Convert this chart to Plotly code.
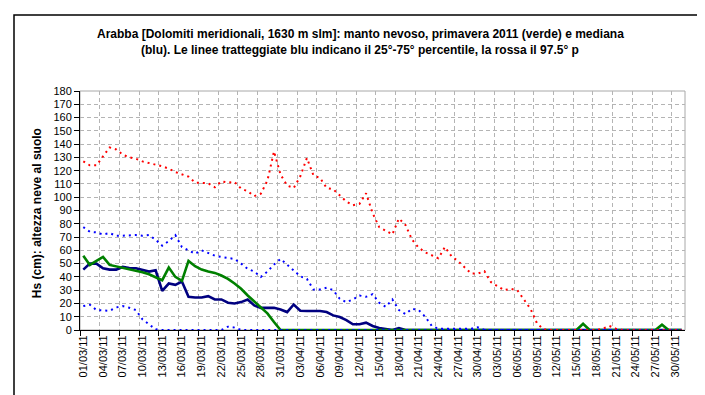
import datetime as dt
import plotly.graph_objects as go

# ---- data (one value per day, 01/03/2011 .. 31/05/2011) ----
start = dt.date(2011, 3, 1)
dates = [(start + dt.timedelta(days=k)).strftime("%d/%m/%y") for k in range(92)]
day = list(range(92))

green_2011 = [56, 49, 52, 55, 49, 48, 47, 46, 44.5, 43.5,
              42, 40, 37.5, 47, 40, 37, 52, 48, 45.5, 44,
              43, 41, 38.5, 35, 31, 26, 21.5, 16.5, 12.5, 6,
              0] + [0] * 45 + [4.7] + [0] * 11 + [4] + [0] * 3

median = [45.5, 50, 50, 46.5, 45.5, 45.5, 47.5, 46.7, 46.5, 45.5,
          44, 45, 29.5, 35, 34, 36.5, 25, 24.5, 24.5, 25.5,
          23, 23, 20.5, 20, 21, 23, 18.5, 16.7, 16.7, 16.7,
          15.5, 13.5, 19.2, 14.5, 14.3, 14.3, 14.3, 13.5, 11, 9.8,
          7.5, 4.3, 4.3, 5.5, 3, 1.5, 0.5, 0, 1.5, 0] + [0] * 42

p75 = [77.5, 74, 73.5, 72, 73, 71, 71, 71.5, 71.5, 71,
       71.5, 68, 63.5, 67, 71.5, 62.5, 59.8, 57.5, 60, 58,
       56, 55, 54.5, 53.5, 50, 46, 44, 40, 44, 49.3,
       53.5, 49, 44.5, 40.5, 38.5, 30.5, 30.5, 31.8, 30, 23.5,
       21, 23, 26, 25, 27, 20.5, 17.5, 23, 15, 12,
       16, 15, 10, 3, 1, 1, 1, 1, 1, 1,
       2] + [0] * 31

p25 = [18, 19, 15, 14.5, 14.5, 17, 18, 16.8, 15, 8,
       4, 0.5, 0, 0, 0, 0, 0, 0, 0, 0,
       0, 0, 2.5, 1.8] + [0] * 68

p975 = [127, 124, 124, 131, 137.5, 136, 132, 130, 129, 127,
        126, 124.5, 123.3, 121.5, 119, 117, 115.5, 111, 110.5, 110.5,
        107.5, 112, 111, 111.5, 106.5, 104.5, 100.8, 102.7, 112.5, 134.5,
        117, 108.8, 107, 115.8, 129.5, 116.5, 114.5, 107, 106, 101,
        96.8, 94, 95, 103, 88, 77.5, 75, 72, 84, 79,
        68, 62, 58.5, 56, 54, 62.5, 55.5, 51.8, 47, 42.5,
        42.5, 44.3, 36, 33, 30, 31, 30, 23, 16, 5,
        0.5, 0, 0, 0, 0, 0, 0, 0, 0, 1,
        3, 1] + [0] * 10

tick_idx = list(range(0, 92, 3))
tick_txt = [dates[k] for k in tick_idx]

title_line1 = "Arabba [Dolomiti meridionali, 1630 m slm]: manto nevoso, primavera 2011 (verde) e mediana"
title_line2 = "(blu). Le linee tratteggiate blu indicano il 25°-75° percentile, la rossa il 97.5° p"
ytitle_text = "Hs (cm): altezza neve al suolo"

# ---- layout geometry (pixels) ----
W, H = 705, 395
L, R, T, B = 72, 677, 83, 321.7
pw, ph = R - L, B - T


def px(x):
    return (x - L) / pw


def py(y):
    return (B - y) / ph


FONT = "Liberation Sans, Arial, sans-serif"
GRID = "#B4B4B4"

fig = go.Figure()
fig.add_trace(go.Scatter(x=day, y=median, mode="lines",
                         line=dict(color="#000080", width=2.6), hoverinfo="skip"))
fig.add_trace(go.Scatter(x=day, y=green_2011, mode="lines",
                         line=dict(color="#008000", width=2.6), hoverinfo="skip"))
fig.add_trace(go.Scatter(x=day, y=p75, mode="lines",
                         line=dict(color="#0000FF", width=2, dash="2px,4px"), hoverinfo="skip"))
fig.add_trace(go.Scatter(x=day, y=p25, mode="lines",
                         line=dict(color="#0000FF", width=2, dash="2px,4px"), hoverinfo="skip"))
fig.add_trace(go.Scatter(x=day, y=p975, mode="lines",
                         line=dict(color="#FF0000", width=2, dash="2px,4px"), hoverinfo="skip"))

fig.update_layout(
    width=W, height=H,
    margin=dict(l=L, r=W - R, t=T, b=H - B, pad=0),
    paper_bgcolor="white", plot_bgcolor="white",
    showlegend=False,
    font=dict(family=FONT, size=11, color="black"),
    shapes=[
        dict(type="rect", xref="x domain", yref="y domain", x0=0, x1=1, y0=0, y1=1,
             line=dict(color="#A8A8A8", width=1), layer="below"),
        dict(type="rect", xref="paper", yref="paper",
             x0=px(6), x1=px(698), y0=py(389), y1=py(7),
             line=dict(color="black", width=1.5), layer="above"),
    ],
    annotations=[
        dict(text=title_line1, xref="paper", yref="paper", x=px(352), y=py(26),
             xanchor="center", yanchor="middle", showarrow=False,
             font=dict(family=FONT, size=12, color="black", weight="bold")),
        dict(text=title_line2, xref="paper", yref="paper", x=px(352), y=py(42),
             xanchor="center", yanchor="middle", showarrow=False,
             font=dict(family=FONT, size=12, color="black", weight="bold")),
        dict(text=ytitle_text, xref="paper", yref="paper", x=px(29), y=py(205),
             xanchor="center", yanchor="middle", showarrow=False, textangle=-90,
             font=dict(family=FONT, size=12, color="black", weight="bold")),
    ],
)

fig.update_xaxes(
    range=[-0.5, 91.5], tickmode="array", tickvals=tick_idx, ticktext=tick_txt,
    tickangle=-90, ticks="", showgrid=False, zeroline=False,
    showline=True, linecolor="black", linewidth=1, layer="below traces",
    tickfont=dict(family=FONT, size=11),
    minor=dict(tick0=-0.5, dtick=3, ticks="outside", ticklen=5, tickcolor="black",
               showgrid=True, gridcolor=GRID, griddash="4px,3px", gridwidth=1),
)
fig.update_yaxes(
    range=[0, 180], dtick=10, tick0=0, ticks="outside", ticklen=5, tickcolor="black",
    showgrid=True, gridcolor=GRID, griddash="4px,3px", gridwidth=1, zeroline=False,
    showline=True, linecolor="black", linewidth=1, layer="below traces",
    tickfont=dict(family=FONT, size=11),
)

fig.write_html("out.html")
